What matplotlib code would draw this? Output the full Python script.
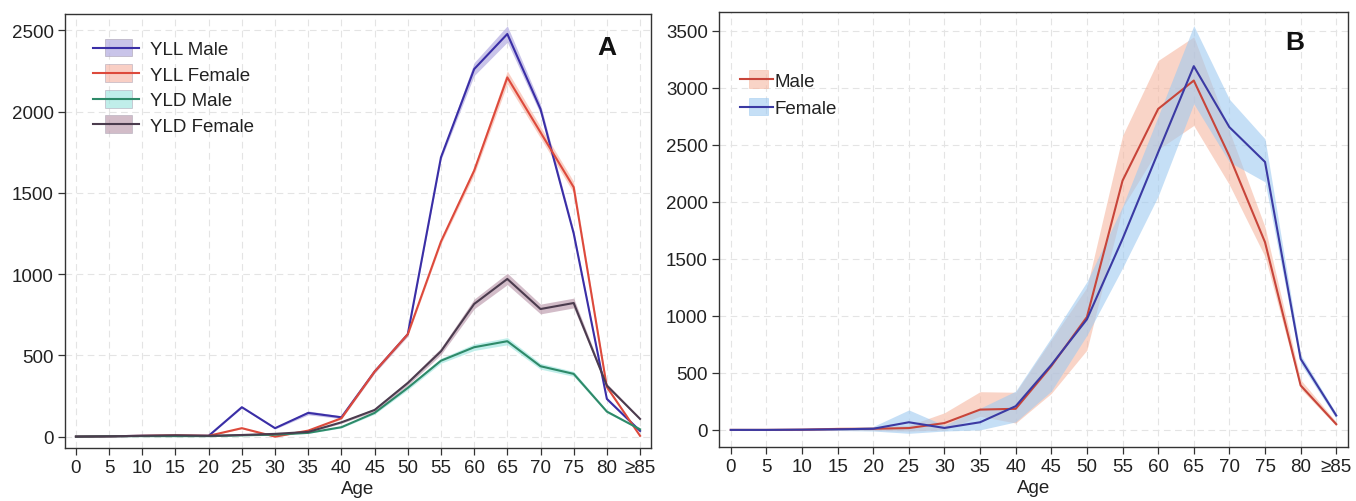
import matplotlib
matplotlib.use("Agg")
import matplotlib.pyplot as plt
import numpy as np
from matplotlib.patches import Patch, Rectangle
from matplotlib.lines import Line2D
from matplotlib.legend_handler import HandlerPatch, HandlerTuple

plt.rcParams['font.family'] = ['Liberation Sans', 'DejaVu Sans']

age_labels = ['0', '5', '10', '15', '20', '25', '30', '35', '40', '45', '50',
              '55', '60', '65', '70', '75', '80', '≥85']

# ---- Panel A (value, half-width of band) ----
yll_male = [0, 2, 5, 5, 5, 181, 52, 146, 119, 400, 630, 1718, 2261, 2477, 2015, 1250, 232, 35]
yll_male_hw = [0, 1, 2, 2, 2, 5, 5, 12, 8, 10, 12, 15, 40, 50, 30, 20, 10, 5]
yll_female = [0, 2, 5, 8, 5, 52, 0, 37, 113, 400, 630, 1200, 1636, 2210, 1872, 1534, 305, 5]
yll_female_hw = [0, 1, 2, 2, 2, 4, 4, 5, 6, 10, 12, 15, 25, 40, 35, 35, 10, 3]
yld_male = [0, 2, 3, 3, 3, 8, 12, 23, 58, 146, 300, 467, 550, 587, 433, 386, 154, 45]
yld_male_hw = [0, 1, 1, 1, 1, 2, 2, 3, 5, 8, 12, 15, 20, 22, 18, 15, 8, 4]
yld_female = [0, 2, 5, 8, 5, 10, 17, 29, 88, 164, 330, 525, 816, 970, 785, 822, 314, 109]
yld_female_hw = [0, 1, 1, 1, 1, 2, 3, 4, 6, 10, 15, 20, 30, 35, 30, 30, 12, 6]

# ---- Panel B ----
b_male = [0, 0, 2, 8, 10, 16, 60, 178, 185, 560, 990, 2186, 2815, 3064, 2400, 1646, 390, 50]
b_male_lo = [-5, -5, -5, -5, -5, -10, 0, 120, 60, 320, 700, 1950, 2460, 2670, 2150, 1520, 360, 35]
b_male_hi = [5, 5, 10, 25, 25, 40, 150, 335, 330, 790, 1250, 2580, 3240, 3447, 2620, 1780, 440, 70]
b_female = [0, 0, 2, 5, 10, 67, 17, 67, 208, 570, 970, 1675, 2435, 3190, 2655, 2350, 623, 126]
b_female_lo = [-5, -5, -5, -5, -10, -30, -10, 0, 70, 340, 830, 1420, 2050, 2860, 2350, 2175, 580, 100]
b_female_hi = [5, 5, 10, 15, 30, 175, 40, 190, 340, 810, 1300, 1960, 2750, 3545, 2900, 2552, 660, 145]

W, H = 1356, 502
fig = plt.figure(figsize=(W / 100, H / 100), dpi=100)
fig.patch.set_facecolor('white')


def ax_rect(l, t, r, b):
    return [l / W, 1 - b / H, (r - l) / W, (b - t) / H]


axA = fig.add_axes(ax_rect(65, 15, 651, 449))
axB = fig.add_axes(ax_rect(719, 13, 1348, 448))

x = np.arange(len(age_labels))


def style(ax, yticks, ylim):
    ax.set_xlim(-0.33, 17.33)
    ax.set_ylim(*ylim)
    ax.set_xticks(x)
    ax.set_xticklabels(age_labels)
    ax.set_yticks(yticks)
    ax.grid(True, color='#e4e4e4', linestyle=(0, (6, 4)), linewidth=0.8)
    ax.set_axisbelow(True)
    for s in ax.spines.values():
        s.set_color('#333333')
        s.set_linewidth(1.0)
    ax.tick_params(direction='out', length=5, width=0.9, color='#333333',
                   labelsize=13.5, labelcolor='#222222', pad=3)
    ax.set_xlabel('Age', fontsize=13.5, color='#222222', labelpad=3)


style(axA, [0, 500, 1000, 1500, 2000, 2500], (-70, 2600))
style(axB, [0, 500, 1000, 1500, 2000, 2500, 3000, 3500], (-150, 3665))

seriesA = [
    ('YLL Male', yll_male, yll_male_hw, '#3a2ea6', '#b7b0e2', 0.75),
    ('YLL Female', yll_female, yll_female_hw, '#dd4a3c', '#f7b6a6', 0.65),
    ('YLD Male', yld_male, yld_male_hw, '#2e8a69', '#9ee6df', 0.65),
    ('YLD Female', yld_female, yld_female_hw, '#4b3c4e', '#bb98ab', 0.65),
]
handlesA = []
for name, v, hw, lc, fc, al in seriesA:
    v = np.array(v, float)
    hw = np.array(hw, float)
    axA.fill_between(x, v - hw, v + hw, color=fc, alpha=al, linewidth=0)
for name, v, hw, lc, fc, al in seriesA:
    axA.plot(x, v, color=lc, linewidth=1.5)
    handlesA.append((Patch(facecolor=fc, edgecolor='#b0a8b8', alpha=al, linewidth=0.6),
                     Line2D([], [], color=lc, linewidth=1.5)))

seriesB = [
    ('Male', b_male, b_male_lo, b_male_hi, '#c8453a', '#f6b8a2', 0.6),
    ('Female', b_female, b_female_lo, b_female_hi, '#3b3aa3', '#9fcaf0', 0.6),
]
handlesB = []
for name, v, lo, hi, lc, fc, al in seriesB:
    axB.fill_between(x, lo, hi, color=fc, alpha=al, linewidth=0)
for name, v, lo, hi, lc, fc, al in seriesB:
    axB.plot(x, v, color=lc, linewidth=1.5)
    handlesB.append((Patch(facecolor=fc, edgecolor=fc, alpha=al, linewidth=0.6),
                     Line2D([], [], color=lc, linewidth=1.5)))


def make_patch(legend, orig_handle, xdescent, ydescent, width, height, fontsize):
    pw = width * 0.58
    ph = height * 1.35
    return Rectangle((-xdescent + (width - pw) / 2 + width * 0.05, -ydescent + (height - ph) / 2), pw, ph)


hmap = {Patch: HandlerPatch(patch_func=make_patch), tuple: HandlerTuple(ndivide=1)}

legA = axA.legend(handlesA, [s[0] for s in seriesA], loc='upper left',
                  bbox_to_anchor=(0.035, 0.955), frameon=False, fontsize=13.5,
                  handlelength=2.45, handletextpad=0.6, labelspacing=0.45,
                  borderaxespad=0, handler_map=hmap)
legB = axB.legend(handlesB, [s[0] for s in seriesB], loc='upper left',
                  bbox_to_anchor=(0.022, 0.878), frameon=False, fontsize=13.5,
                  handlelength=1.75, handletextpad=0.05, labelspacing=0.55,
                  borderaxespad=0, handler_map=hmap)
for leg in (legA, legB):
    for t in leg.get_texts():
        t.set_color('#222222')

axA.text(0.925, 0.925, 'A', transform=axA.transAxes, fontsize=19, fontweight='bold',
         ha='center', va='center', color='#111111')
axB.text(0.915, 0.93, 'B', transform=axB.transAxes, fontsize=19, fontweight='bold',
         ha='center', va='center', color='#111111')

fig.savefig('out.png', dpi=100, facecolor='white')
